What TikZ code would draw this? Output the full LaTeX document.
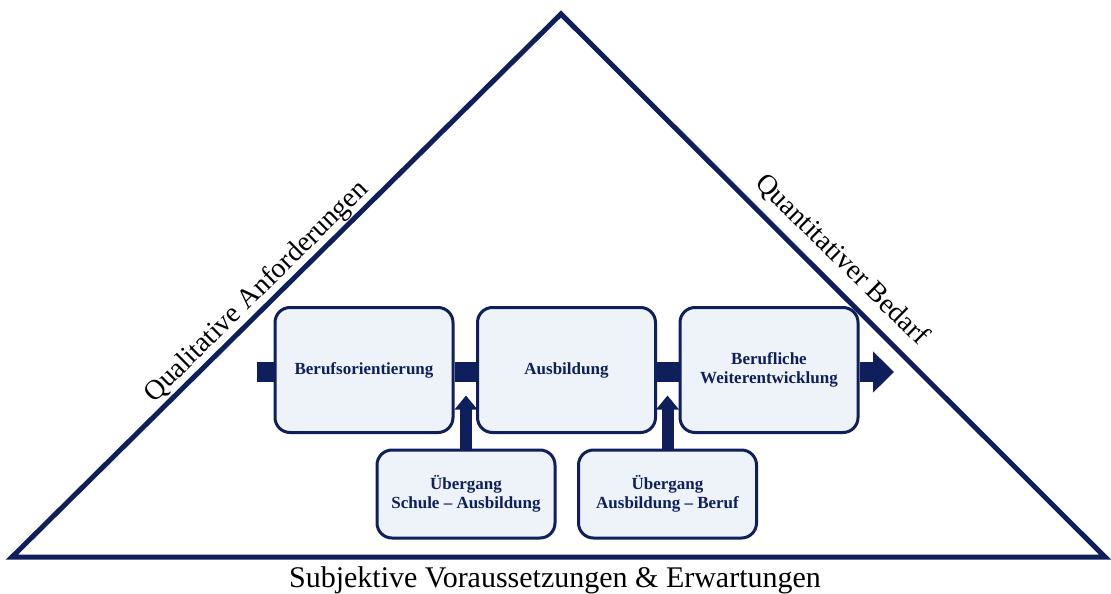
\documentclass[tikz,border=0pt]{standalone}
\usepackage{fontspec}
\setmainfont{Liberation Serif}
\usepackage{tikz}
\usetikzlibrary{arrows.meta,positioning,calc}

\definecolor{navy}{HTML}{0E1F5C}
\definecolor{boxfill}{HTML}{EEF2F9}

\tikzset{
  phase/.style={draw=navy,fill=boxfill,line width=3pt,rounded corners=15pt,
    minimum width=178pt,minimum height=125pt,align=center,text=navy,
    font=\fontsize{17}{19.5}\selectfont\bfseries},
  transit/.style={phase,minimum height=88pt},
  flowbar/.style={draw=navy,line width=20pt},
  uparrow/.style={draw=navy,line width=12pt,-{Triangle[length=14pt 0 0,width=22pt 0 0]}},
  sidelabel/.style={font=\fontsize{28}{30}\selectfont}
}

\begin{document}
\begin{tikzpicture}[x=1pt,y=-1pt]
    \useasboundingbox (0,0) rectangle (1111,594);

    % triangle
    \draw[navy,line width=5pt,line join=miter] (12,557) -- (561,14) -- (1105,557) -- cycle;

    \node[sidelabel,rotate=44.6] at (257,292) (qual) {Qualitative Anforderungen};
    \node[sidelabel,rotate=-44.6] at (842,260) (quant) {Quantitativer Bedarf};
    \node[sidelabel,font=\fontsize{30}{32}\selectfont] at (555,580) (subj) {Subjektive Voraussetzungen \& Erwartungen};

    % phases
    \node[phase] at (364,370) (bo) {Berufsorientierung};
    \node[phase] at (566.5,370) (ab) {Ausbildung};
    \node[phase] at (769,370) (bw) {Berufliche\\Weiterentwicklung};

    \node[transit] at (466,494) (ue1) {Übergang\\Schule -- Ausbildung};
    \node[transit] at (667.5,494) (ue2) {Übergang\\Ausbildung -- Beruf};

    \coordinate (start) at (257,372);
    \coordinate (goal) at (894,372);
    \draw[flowbar] (start) -- (bo.west |- start);
    \draw[flowbar] (bo.east |- start) -- (ab.west |- start);
    \draw[flowbar] (ab.east |- start) -- (bw.west |- start);
    \draw[flowbar,-{Triangle[length=21pt 0 0,width=40pt 0 0]}] (bw.east |- start) -- (goal);

    \foreach \i in {1,2} {
      \draw[uparrow] (ue\i.north) -- ++(0,-53);
    }
\end{tikzpicture}
\end{document}
